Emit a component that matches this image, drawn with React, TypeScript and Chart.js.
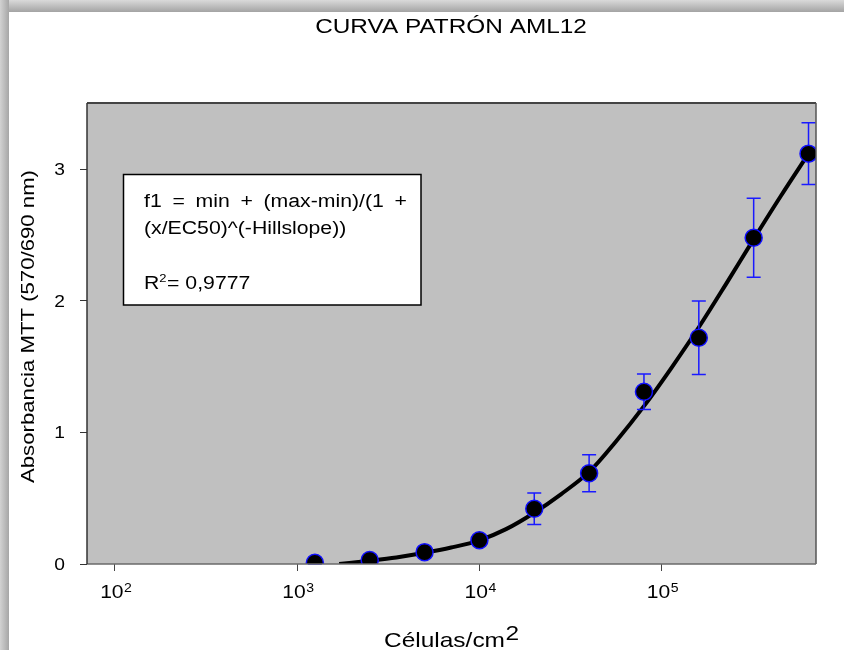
import React, { useEffect, useRef } from 'react';
import { Chart, registerables } from 'chart.js';

Chart.register(...registerables);

// ---------- text ----------
const chartTitle = 'CURVA PATRÓN AML12';
const yAxisTitle = 'Absorbancia MTT (570/690 nm)';
const xAxisTitle = 'Células/cm';
const xAxisTitleSup = '2';
const annotationLine1 = 'f1 = min + (max-min)/(1 +';
const annotationLine2 = '(x/EC50)^(-Hillslope))';
const rSquaredBase = 'R';
const rSquaredSup = '2';
const rSquaredValue = '= 0,9777';

// ---------- data ----------
const cellDensity = [1250, 2500, 5000, 10000, 20000, 40000, 80000, 160000, 320000, 640000];
const absorbance = [0.01, 0.03, 0.09, 0.18, 0.42, 0.69, 1.31, 1.72, 2.48, 3.12];
const absorbanceSd = [0.01, 0.015, 0.02, 0.025, 0.12, 0.14, 0.135, 0.28, 0.3, 0.235];

const fitCellDensity = [1700, 2500, 3500, 5000, 7000, 10000, 14000, 20000, 28000, 40000, 56000, 80000, 113000, 160000, 226000, 320000, 452000, 640000];
const fitAbsorbance = [0.0, 0.025, 0.05, 0.085, 0.125, 0.18, 0.265, 0.39, 0.53, 0.7, 0.93, 1.2, 1.49, 1.8, 2.13, 2.47, 2.8, 3.12];

const xTickExponents = [2, 3, 4, 5];
const yTickValues = [0, 1, 2, 3];

const X_MIN = 70.2;
const X_MAX = 703500;
const Y_MIN = 0;
const Y_MAX = 3.505;

const FONT = '"Liberation Sans", Arial, Helvetica, sans-serif';

function drawText(
  ctx: CanvasRenderingContext2D,
  text: string,
  x: number,
  y: number,
  size: number,
  sx: number,
  align: 'left' | 'center' | 'right' = 'left',
  color = '#000'
): number {
  ctx.save();
  ctx.font = `${size}px ${FONT}`;
  ctx.fillStyle = color;
  ctx.textBaseline = 'alphabetic';
  ctx.textAlign = 'left';
  const w = ctx.measureText(text).width * sx;
  const x0 = align === 'left' ? x : align === 'center' ? x - w / 2 : x - w;
  ctx.translate(x0, y);
  ctx.scale(sx, 1);
  ctx.fillText(text, 0, 0);
  ctx.restore();
  return w;
}

function measure(ctx: CanvasRenderingContext2D, text: string, size: number): number {
  ctx.save();
  ctx.font = `${size}px ${FONT}`;
  const w = ctx.measureText(text).width;
  ctx.restore();
  return w;
}

const sketchPlugin = {
  id: 'sketch',
  beforeDatasetsDraw(chart: any) {
    const { ctx, chartArea: a } = chart;
    ctx.save();
    ctx.fillStyle = '#c0c0c0';
    ctx.fillRect(a.left, a.top, a.right - a.left, a.bottom - a.top);

    // annotation box
    ctx.fillStyle = '#ffffff';
    ctx.fillRect(123.5, 174.5, 297.5, 130.5);
    ctx.strokeStyle = '#000';
    ctx.lineWidth = 1.5;
    ctx.strokeRect(123.5, 174.5, 297.5, 130.5);
    ctx.restore();

    const size = 18;
    const sxA = 1.18;
    // line 1: tokens spread across target width
    const tokens = annotationLine1.split(' ').filter(Boolean);
    const widths = tokens.map((t) => measure(ctx, t, size) * sxA);
    const total = widths.reduce((s, w) => s + w, 0);
    const gap = (263 - total) / (tokens.length - 1);
    let cx = 144;
    tokens.forEach((t, i) => {
      drawText(ctx, t, cx, 207, size, sxA);
      cx += widths[i] + gap;
    });

    // line 2
    drawText(ctx, annotationLine2, 144, 234, size, sxA);

    // line 3: R^2 = value
    let lx = 144;
    lx += drawText(ctx, rSquaredBase, lx, 288.5, size, sxA);
    lx += drawText(ctx, rSquaredSup, lx, 282, 11, sxA);
    drawText(ctx, rSquaredValue, lx + 0.5, 288.5, size, sxA);
  },
  afterDatasetDraw(chart: any, args: any) {
    if (args.index !== 0) return;
    const { ctx } = chart;
    const xs = chart.scales.x;
    const ys = chart.scales.y;
    ctx.save();
    ctx.strokeStyle = '#1a1aff';
    ctx.lineWidth = 1.5;
    cellDensity.forEach((xv, i) => {
      const x = xs.getPixelForValue(xv);
      const yt = ys.getPixelForValue(absorbance[i] + absorbanceSd[i]);
      const yb = ys.getPixelForValue(absorbance[i] - absorbanceSd[i]);
      ctx.beginPath();
      ctx.moveTo(x, yt);
      ctx.lineTo(x, yb);
      ctx.moveTo(x - 7, yt);
      ctx.lineTo(x + 7, yt);
      ctx.moveTo(x - 7, yb);
      ctx.lineTo(x + 7, yb);
      ctx.stroke();
    });
    ctx.restore();
  },
  afterDraw(chart: any) {
    const { ctx, chartArea: a } = chart;
    const xs = chart.scales.x;
    const ys = chart.scales.y;
    ctx.save();
    // frame
    ctx.lineWidth = 2;
    ctx.strokeStyle = '#444';
    ctx.beginPath();
    ctx.moveTo(a.left, a.top);
    ctx.lineTo(a.right, a.top);
    ctx.stroke();
    ctx.lineWidth = 1.5;
    ctx.strokeStyle = '#555';
    ctx.beginPath();
    ctx.moveTo(a.right, a.top);
    ctx.lineTo(a.right, a.bottom);
    ctx.stroke();
    ctx.strokeStyle = '#6a6a6a';
    ctx.beginPath();
    ctx.moveTo(a.left, a.bottom);
    ctx.lineTo(a.right, a.bottom);
    ctx.stroke();
    ctx.strokeStyle = '#333';
    ctx.beginPath();
    ctx.moveTo(a.left, a.top);
    ctx.lineTo(a.left, a.bottom);
    ctx.stroke();
    ctx.restore();

    // title
    drawText(ctx, chartTitle, 451, 33.3, 21, 1.16, 'center');

    // x axis title
    const w = drawText(ctx, xAxisTitle, 384, 647, 21, 1.165);
    drawText(ctx, xAxisTitleSup, 384 + w + 0.5, 640, 21, 1.165);

    // y axis title (rotated)
    ctx.save();
    ctx.translate(33.5, 326.5);
    ctx.rotate(-Math.PI / 2);
    const sy = 313 / measure(ctx, yAxisTitle, 18);
    drawText(ctx, yAxisTitle, 0, 0, 18, sy, 'center');
    ctx.restore();

    // y tick labels
    yTickValues.forEach((v) => {
      const y = ys.getPixelForValue(v);
      drawText(ctx, String(v), 65, y + 5.8, 16, 1.2, 'right');
    });

    // x tick labels 10^n
    xTickExponents.forEach((e) => {
      const x = xs.getPixelForValue(Math.pow(10, e));
      const wb = measure(ctx, '10', 18) * 1.17;
      const wsup = measure(ctx, String(e), 12) * 1.17;
      const start = x + 1 - (wb + wsup + 0.5) / 2;
      drawText(ctx, '10', start, 598.3, 18, 1.17);
      drawText(ctx, String(e), start + wb + 0.5, 591.7, 12, 1.17);
    });
  },
};

export default function App() {
  const ref = useRef<HTMLCanvasElement>(null);

  useEffect(() => {
    if (!ref.current) return;
    const chart = new Chart(ref.current, {
      type: 'scatter',
      data: {
        datasets: [
          {
            type: 'line',
            label: 'fit',
            data: fitCellDensity.map((x, i) => ({ x, y: fitAbsorbance[i] })),
            borderColor: '#000000',
            borderWidth: 4,
            pointRadius: 0,
            cubicInterpolationMode: 'monotone',
            fill: false,
            order: 2,
          } as any,
          {
            type: 'scatter',
            label: 'data',
            data: cellDensity.map((x, i) => ({ x, y: absorbance[i] })),
            pointRadius: 8.5,
            pointStyle: 'circle',
            pointBackgroundColor: '#000000',
            pointBorderColor: '#1010ff',
            pointBorderWidth: 1.5,
            showLine: false,
            order: 0,
          } as any,
        ],
      },
      options: {
        animation: false,
        responsive: false,
        devicePixelRatio: 1,
        events: [],
        layout: { padding: { left: 0, top: 103, right: 28, bottom: 0 } },
        plugins: {
          legend: { display: false },
          tooltip: { enabled: false },
          title: { display: false },
        },
        scales: {
          x: {
            type: 'logarithmic',
            position: 'bottom',
            min: X_MIN,
            max: X_MAX,
            afterBuildTicks: (s: any) => {
              s.ticks = xTickExponents.map((e) => ({ value: Math.pow(10, e) }));
            },
            afterFit: (s: any) => {
              s.height = 86;
            },
            grid: {
              display: true,
              drawOnChartArea: false,
              drawTicks: true,
              tickLength: 7,
              color: '#444',
              lineWidth: 1,
            },
            border: { display: false },
            ticks: { display: false },
          },
          y: {
            type: 'linear',
            position: 'left',
            min: Y_MIN,
            max: Y_MAX,
            afterBuildTicks: (s: any) => {
              s.ticks = yTickValues.map((v) => ({ value: v }));
            },
            afterFit: (s: any) => {
              s.width = 87;
            },
            grid: {
              display: true,
              drawOnChartArea: false,
              drawTicks: true,
              tickLength: 7,
              color: '#333',
              lineWidth: 1,
            },
            border: { display: false },
            ticks: { display: false },
          },
        },
      } as any,
      plugins: [sketchPlugin],
    });
    return () => chart.destroy();
  }, []);

  return (
    <div
      style={{
        position: 'fixed',
        left: 0,
        top: 0,
        width: 844,
        height: 650,
        background: '#ffffff',
        overflow: 'hidden',
      }}
    >
      <div
        style={{
          position: 'absolute',
          left: 0,
          top: 0,
          width: 844,
          height: 12,
          background: 'linear-gradient(to bottom, #dadada, #a4a4a4)',
        }}
      />
      <div
        style={{
          position: 'absolute',
          left: 0,
          top: 0,
          width: 9,
          height: 650,
          background: 'linear-gradient(to right, #d2d2d2, #a6a6a6)',
        }}
      />
      <canvas ref={ref} width={844} height={650} style={{ position: 'absolute', left: 0, top: 0 }} />
    </div>
  );
}
